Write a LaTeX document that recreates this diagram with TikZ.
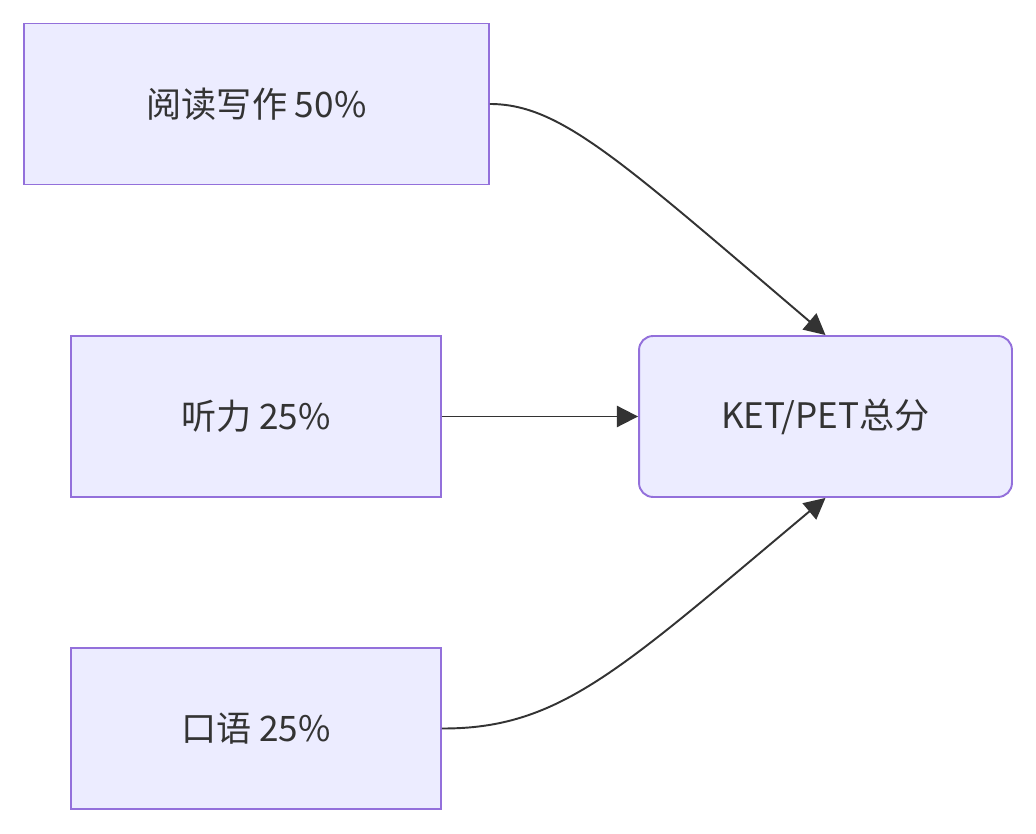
\documentclass[tikz,border=0pt]{standalone}
\usepackage{fontspec}
\setmainfont{Noto Sans CJK SC}
\usetikzlibrary{arrows.meta}
\definecolor{boxfill}{HTML}{ECECFF}
\definecolor{boxline}{HTML}{9370DB}
\definecolor{arrowcol}{HTML}{333333}
\tikzset{
  part/.style={draw=boxline, fill=boxfill, line width=1.1pt, minimum width=9.3cm, minimum height=3.22cm, font=\fontsize{20}{24}\selectfont, text=arrowcol},
  link/.style={draw=arrowcol, line width=1.1pt, -{Triangle[length=12pt,width=12pt]}}
}
\begin{document}
\begin{tikzpicture}[x=0.02cm,y=-0.02cm]
  \useasboundingbox (0,0) rectangle (1036,834);
  \node[part, minimum width=9.3cm] (read) at (256.5,104) {阅读写作 50\%};
  \node[part, minimum width=7.4cm] (listen) at (256,416.5) {听力 25\%};
  \node[part, minimum width=7.4cm] (speak) at (256,728.5) {口语 25\%};
  \node[part, minimum width=7.46cm, rounded corners=8pt] (total) at (825.5,416.5) {KET/PET总分};
\draw[link] (read.east) .. controls (560,104) and (620,160) .. (total.north);
\draw[link] (listen) -- (total);
\draw[link] (speak.east) .. controls (560,729) and (620,670) .. (total.south);
\end{tikzpicture}
\end{document}
